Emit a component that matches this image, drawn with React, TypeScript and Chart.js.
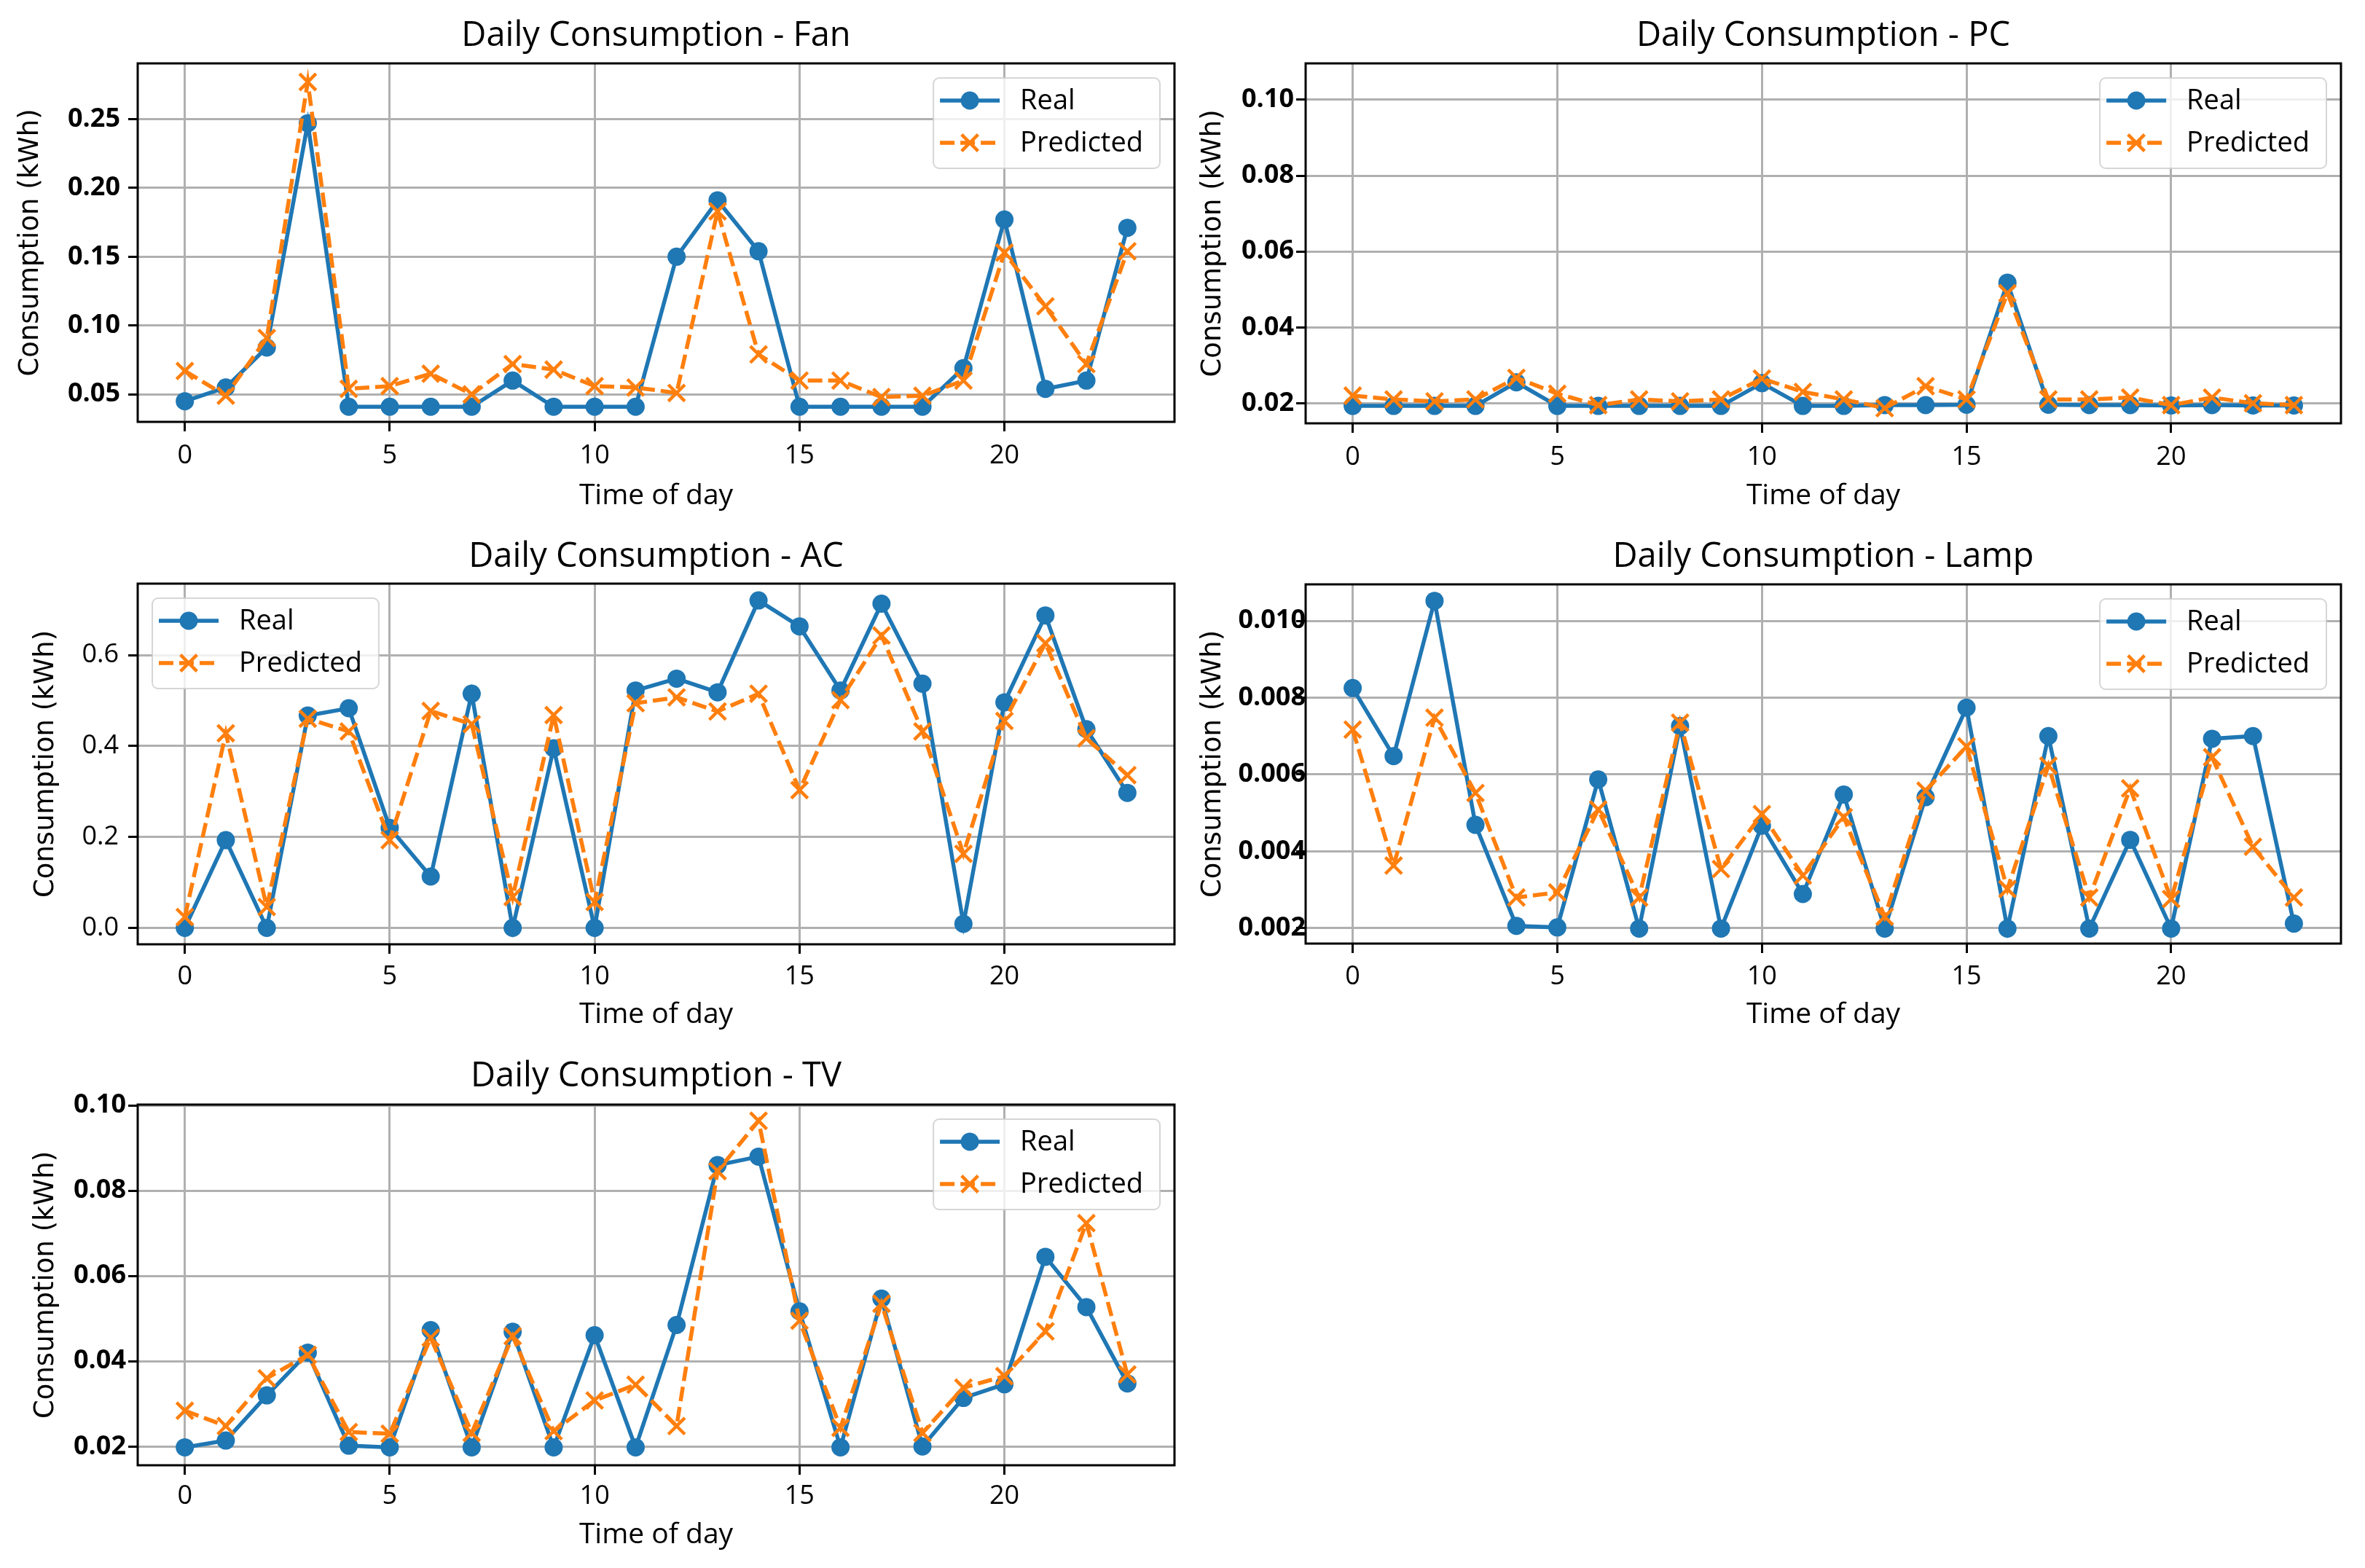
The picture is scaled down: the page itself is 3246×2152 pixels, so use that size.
import React, { useEffect, useRef } from 'react';
import { Chart, registerables } from 'chart.js';

Chart.register(...registerables);

// ---------------- data ----------------
const hours = [0, 1, 2, 3, 4, 5, 6, 7, 8, 9, 10, 11, 12, 13, 14, 15, 16, 17, 18, 19, 20, 21, 22, 23];
const xTickValues = [0, 5, 10, 15, 20];

const fanReal = [0.045, 0.055, 0.084, 0.247, 0.041, 0.041, 0.041, 0.041, 0.060, 0.041, 0.041, 0.041, 0.150, 0.191, 0.154, 0.041, 0.041, 0.041, 0.041, 0.069, 0.177, 0.054, 0.060, 0.171];
const fanPred = [0.067, 0.049, 0.091, 0.277, 0.054, 0.056, 0.065, 0.050, 0.072, 0.068, 0.056, 0.055, 0.051, 0.183, 0.079, 0.060, 0.060, 0.048, 0.049, 0.060, 0.153, 0.114, 0.072, 0.154];
const fanYTicks = [0.05, 0.10, 0.15, 0.20, 0.25];

const pcReal = [0.0193, 0.0193, 0.0193, 0.0193, 0.0255, 0.0193, 0.0193, 0.0193, 0.0193, 0.0193, 0.0253, 0.0193, 0.0193, 0.0195, 0.0195, 0.0196, 0.0518, 0.0196, 0.0195, 0.0195, 0.0194, 0.0195, 0.0194, 0.0194];
const pcPred = [0.0220, 0.0210, 0.0205, 0.0210, 0.0267, 0.0225, 0.0195, 0.0210, 0.0205, 0.0210, 0.0265, 0.0230, 0.0210, 0.0187, 0.0245, 0.0210, 0.0490, 0.0210, 0.0210, 0.0215, 0.0195, 0.0215, 0.0200, 0.0195];
const pcYTicks = [0.02, 0.04, 0.06, 0.08, 0.10];

const acReal = [0.0, 0.193, 0.0, 0.467, 0.483, 0.220, 0.113, 0.515, 0.0, 0.395, 0.0, 0.522, 0.548, 0.518, 0.720, 0.663, 0.522, 0.713, 0.537, 0.009, 0.496, 0.687, 0.437, 0.297];
const acPred = [0.024, 0.428, 0.046, 0.460, 0.432, 0.193, 0.477, 0.448, 0.068, 0.468, 0.057, 0.494, 0.507, 0.476, 0.515, 0.303, 0.501, 0.643, 0.432, 0.163, 0.455, 0.626, 0.417, 0.336];
const acYTicks = [0.0, 0.2, 0.4, 0.6];

const lampReal = [0.00825, 0.00648, 0.01052, 0.00469, 0.00206, 0.00202, 0.00587, 0.00199, 0.00726, 0.00199, 0.00467, 0.00289, 0.00548, 0.00199, 0.00541, 0.00774, 0.00199, 0.00700, 0.00199, 0.00430, 0.00199, 0.00693, 0.00700, 0.00212];
const lampPred = [0.00717, 0.00363, 0.00748, 0.00552, 0.00280, 0.00293, 0.00509, 0.00280, 0.00735, 0.00354, 0.00497, 0.00337, 0.00489, 0.00230, 0.00558, 0.00673, 0.00302, 0.00623, 0.00280, 0.00564, 0.00276, 0.00645, 0.00412, 0.00280];
const lampYTicks = [0.002, 0.004, 0.006, 0.008, 0.010];

const tvReal = [0.0198, 0.0214, 0.0320, 0.0420, 0.0202, 0.0198, 0.0473, 0.0198, 0.0469, 0.0198, 0.0461, 0.0198, 0.0485, 0.0860, 0.0880, 0.0517, 0.0198, 0.0547, 0.0200, 0.0314, 0.0346, 0.0645, 0.0527, 0.0348];
const tvPred = [0.0284, 0.0248, 0.0360, 0.0415, 0.0234, 0.0230, 0.0455, 0.0232, 0.0459, 0.0236, 0.0308, 0.0345, 0.0248, 0.0846, 0.0964, 0.0495, 0.0244, 0.0535, 0.0232, 0.0338, 0.0365, 0.0470, 0.0724, 0.0369];
const tvYTicks = [0.02, 0.04, 0.06, 0.08, 0.10];

const seriesLabels = ['Real', 'Predicted'];

// ---------------- styles ----------------
const BLUE = '#1f77b4';
const ORANGE = '#ff7f0e';
const GRID = '#b0b0b0';
const SANS = '"Open Sans", "Liberation Sans", sans-serif';
const DEJAVU = '"DejaVu Sans", sans-serif';

Chart.defaults.color = '#000';
Chart.defaults.font.family = SANS;

type Panel = {
  title: string;
  real: number[];
  pred: number[];
  yTicks: number[];
  decimals: number;
  yMin: number;
  yMax: number;
  yBold: boolean;
  legendCorner: 'ur' | 'ul';
  // layout (absolute page pixels)
  cx: number; cy: number; cw: number; ch: number;
  L: number; R: number; T: number; B: number;
  titleC: number; xTickC: number; xLabelC: number; yLabelC: number; yTickGap: number;
};

const panels: Panel[] = [
  {
    title: 'Daily Consumption - Fan', real: fanReal, pred: fanPred, yTicks: fanYTicks, decimals: 2,
    yMin: 0.030, yMax: 0.2905, yBold: true, legendCorner: 'ur',
    cx: 0, cy: 0, cw: 1640, ch: 712, L: 189, R: 1612, T: 87, B: 579,
    titleC: 50, xTickC: 626, xLabelC: 681, yLabelC: 42, yTickGap: 24,
  },
  {
    title: 'Daily Consumption - PC', real: pcReal, pred: pcPred, yTicks: pcYTicks, decimals: 2,
    yMin: 0.0147, yMax: 0.1096, yBold: true, legendCorner: 'ur',
    cx: 1640, cy: 0, cw: 1606, ch: 712, L: 1792, R: 3213, T: 87, B: 581,
    titleC: 50, xTickC: 628, xLabelC: 681, yLabelC: 1665, yTickGap: 16,
  },
  {
    title: 'Daily Consumption - AC', real: acReal, pred: acPred, yTicks: acYTicks, decimals: 1,
    yMin: -0.036, yMax: 0.757, yBold: false, legendCorner: 'ul',
    cx: 0, cy: 712, cw: 1640, ch: 712, L: 189, R: 1612, T: 801, B: 1296,
    titleC: 765, xTickC: 1341, xLabelC: 1393, yLabelC: 63, yTickGap: 26,
  },
  {
    title: 'Daily Consumption - Lamp', real: lampReal, pred: lampPred, yTicks: lampYTicks, decimals: 3,
    yMin: 0.0016, yMax: 0.01095, yBold: true, legendCorner: 'ur',
    cx: 1640, cy: 712, cw: 1606, ch: 712, L: 1792, R: 3213, T: 802, B: 1295,
    titleC: 765, xTickC: 1341, xLabelC: 1393, yLabelC: 1665, yTickGap: 0,
  },
  {
    title: 'Daily Consumption - TV', real: tvReal, pred: tvPred, yTicks: tvYTicks, decimals: 2,
    yMin: 0.0156, yMax: 0.1002, yBold: true, legendCorner: 'ur',
    cx: 0, cy: 1424, cw: 1640, ch: 728, L: 189, R: 1612, T: 1516, B: 2011,
    titleC: 1478, xTickC: 2054, xLabelC: 2107, yLabelC: 63, yTickGap: 16,
  },
];

const TITLE_SIZE = 47;
const XTICK_SIZE = 36;
const YTICK_SIZE = 36;
const XLABEL_SIZE = 39;
const YLABEL_SIZE = 37;
const LEGEND_SIZE = 38;
const TICK_LEN = 13;
const LINE_W = 5.5;

// frame (spines) + matplotlib-like legend
const frameLegendPlugin = {
  id: 'frameLegend',
  afterDatasetsDraw(chart: any) {
    const { ctx, chartArea } = chart;
    ctx.save();
    ctx.strokeStyle = '#000';
    ctx.lineWidth = 3;
    ctx.strokeRect(chartArea.left, chartArea.top, chartArea.right - chartArea.left, chartArea.bottom - chartArea.top);
    ctx.restore();
  },
  afterDraw(chart: any, _args: any, opts: any) {
    const { ctx, chartArea } = chart;
    const datasets = chart.data.datasets;
    ctx.save();
    ctx.font = `${LEGEND_SIZE}px ${SANS}`;
    let tw = 0;
    datasets.forEach((ds: any) => { tw = Math.max(tw, ctx.measureText(ds.label).width); });
    const padL = 9, sample = 82, gap = 28, padR = 23, padT = 31, spacing = 58, padB = 35;
    const w = padL + sample + gap + tw + padR;
    const h = padT + spacing * (datasets.length - 1) + padB;
    const off = 20;
    const x0 = opts.corner === 'ul' ? chartArea.left + off : chartArea.right - off - w;
    const y0 = chartArea.top + off;
    const r = 8;
    ctx.beginPath();
    ctx.moveTo(x0 + r, y0);
    ctx.arcTo(x0 + w, y0, x0 + w, y0 + h, r);
    ctx.arcTo(x0 + w, y0 + h, x0, y0 + h, r);
    ctx.arcTo(x0, y0 + h, x0, y0, r);
    ctx.arcTo(x0, y0, x0 + w, y0, r);
    ctx.closePath();
    ctx.fillStyle = 'rgba(255,255,255,0.8)';
    ctx.fill();
    ctx.strokeStyle = 'rgba(204,204,204,0.8)';
    ctx.lineWidth = 2;
    ctx.stroke();

    datasets.forEach((ds: any, i: number) => {
      const cy = y0 + padT + i * spacing;
      const sx = x0 + padL;
      ctx.strokeStyle = ds.borderColor;
      ctx.lineWidth = ds.borderWidth;
      ctx.setLineDash(ds.borderDash || []);
      ctx.beginPath();
      ctx.moveTo(sx, cy);
      ctx.lineTo(sx + sample, cy);
      ctx.stroke();
      ctx.setLineDash([]);
      const mx = sx + sample / 2;
      if (ds.pointStyle === 'circle') {
        ctx.fillStyle = ds.pointBackgroundColor;
        ctx.beginPath();
        ctx.arc(mx, cy, ds.pointRadius, 0, Math.PI * 2);
        ctx.fill();
      } else {
        const a = ds.pointRadius * Math.SQRT1_2;
        ctx.strokeStyle = ds.pointBorderColor;
        ctx.lineWidth = ds.pointBorderWidth;
        ctx.beginPath();
        ctx.moveTo(mx - a, cy - a); ctx.lineTo(mx + a, cy + a);
        ctx.moveTo(mx - a, cy + a); ctx.lineTo(mx + a, cy - a);
        ctx.stroke();
      }
      ctx.fillStyle = '#000';
      ctx.textBaseline = 'middle';
      ctx.textAlign = 'left';
      ctx.fillText(ds.label, sx + sample + gap, cy + 1);
    });
    ctx.restore();
  },
};

function buildConfig(p: Panel): any {
  const lh = (s: number) => s * 1.2;
  const titleTop = (p.titleC - p.cy) - lh(TITLE_SIZE) / 2;
  const titleBottom = (p.T - p.titleC) - lh(TITLE_SIZE) / 2;
  const yAxisWidth = p.L - p.cx;
  const xAxisHeight = p.cy + p.ch - p.B;
  const padRight = p.cx + p.cw - p.R;
  const xTickPad = p.xTickC - p.B - TICK_LEN - lh(XTICK_SIZE) / 2;
  const xTitlePadBottom = (p.cy + p.ch) - p.xLabelC - lh(XLABEL_SIZE) / 2;
  const yTitlePadTop = (p.yLabelC - p.cx) - lh(YLABEL_SIZE) / 2;
  const yTickPad = p.yTickGap - TICK_LEN;

  return {
    type: 'line',
    data: {
      datasets: [
        {
          label: seriesLabels[0],
          data: hours.map((h, i) => ({ x: h, y: p.real[i] })),
          borderColor: BLUE,
          backgroundColor: BLUE,
          borderWidth: LINE_W,
          pointStyle: 'circle',
          pointRadius: 12.5,
          pointBackgroundColor: BLUE,
          pointBorderColor: BLUE,
          pointBorderWidth: 0,
          tension: 0,
          clip: false,
          order: 1,
        },
        {
          label: seriesLabels[1],
          data: hours.map((h, i) => ({ x: h, y: p.pred[i] })),
          borderColor: ORANGE,
          backgroundColor: ORANGE,
          borderWidth: LINE_W,
          borderDash: [20, 8],
          pointStyle: 'crossRot',
          pointRadius: 16,
          pointBackgroundColor: ORANGE,
          pointBorderColor: ORANGE,
          pointBorderWidth: 4.5,
          tension: 0,
          clip: false,
          order: 0,
        },
      ],
    },
    options: {
      animation: false,
      responsive: false,
      maintainAspectRatio: false,
      devicePixelRatio: 1,
      events: [],
      layout: { padding: { left: 0, right: padRight, top: 0, bottom: 0 } },
      plugins: {
        legend: { display: false },
        tooltip: { enabled: false },
        title: {
          display: true,
          text: p.title,
          fullSize: false,
          color: '#000',
          font: { family: SANS, size: TITLE_SIZE, weight: 'normal', lineHeight: 1.2 },
          padding: { top: titleTop, bottom: titleBottom },
        },
        frameLegend: { corner: p.legendCorner },
      },
      scales: {
        x: {
          type: 'linear',
          min: -1.15,
          max: 24.15,
          afterBuildTicks: (scale: any) => { scale.ticks = xTickValues.map((v) => ({ value: v })); },
          afterFit: (scale: any) => { scale.height = xAxisHeight; },
          ticks: {
            color: '#000',
            font: { family: SANS, size: XTICK_SIZE, lineHeight: 1.2 },
            padding: xTickPad,
            maxRotation: 0,
            autoSkip: false,
            callback: (v: any) => String(v),
          },
          grid: { color: GRID, lineWidth: 3, tickColor: '#000', tickLength: TICK_LEN, tickWidth: 3 },
          border: { display: false },
          title: {
            display: true,
            text: 'Time of day',
            color: '#000',
            font: { family: SANS, size: XLABEL_SIZE, lineHeight: 1.2 },
            padding: { top: 0, bottom: xTitlePadBottom },
          },
        },
        y: {
          type: 'linear',
          min: p.yMin,
          max: p.yMax,
          afterBuildTicks: (scale: any) => { scale.ticks = p.yTicks.map((v) => ({ value: v })); },
          afterFit: (scale: any) => { scale.width = yAxisWidth; },
          ticks: {
            color: '#000',
            font: { family: SANS, size: YTICK_SIZE, weight: p.yBold ? 'bold' : 'normal', lineHeight: 1.2 },
            padding: yTickPad,
            autoSkip: false,
            callback: (v: any) => Number(v).toFixed(p.decimals),
          },
          grid: { color: GRID, lineWidth: 3, tickColor: '#000', tickLength: TICK_LEN, tickWidth: 3 },
          border: { display: false },
          title: {
            display: true,
            text: 'Consumption (kWh)',
            color: '#000',
            font: { family: DEJAVU, size: YLABEL_SIZE, lineHeight: 1.2 },
            padding: { top: yTitlePadTop, bottom: 0 },
          },
        },
      },
    },
    plugins: [frameLegendPlugin],
  };
}

function PanelChart({ p }: { p: Panel }) {
  const ref = useRef<HTMLCanvasElement>(null);
  useEffect(() => {
    if (!ref.current) return;
    const chart = new Chart(ref.current, buildConfig(p));
    return () => chart.destroy();
  }, [p]);
  return (
    <canvas
      ref={ref}
      width={p.cw}
      height={p.ch}
      style={{ position: 'absolute', left: p.cx, top: p.cy, width: p.cw, height: p.ch }}
    />
  );
}

export default function App() {
  return (
    <div style={{ position: 'absolute', left: 0, top: 0, width: 3246, height: 2152, background: '#fff', overflow: 'hidden' }}>
      {panels.map((p) => (
        <PanelChart key={p.title} p={p} />
      ))}
    </div>
  );
}
